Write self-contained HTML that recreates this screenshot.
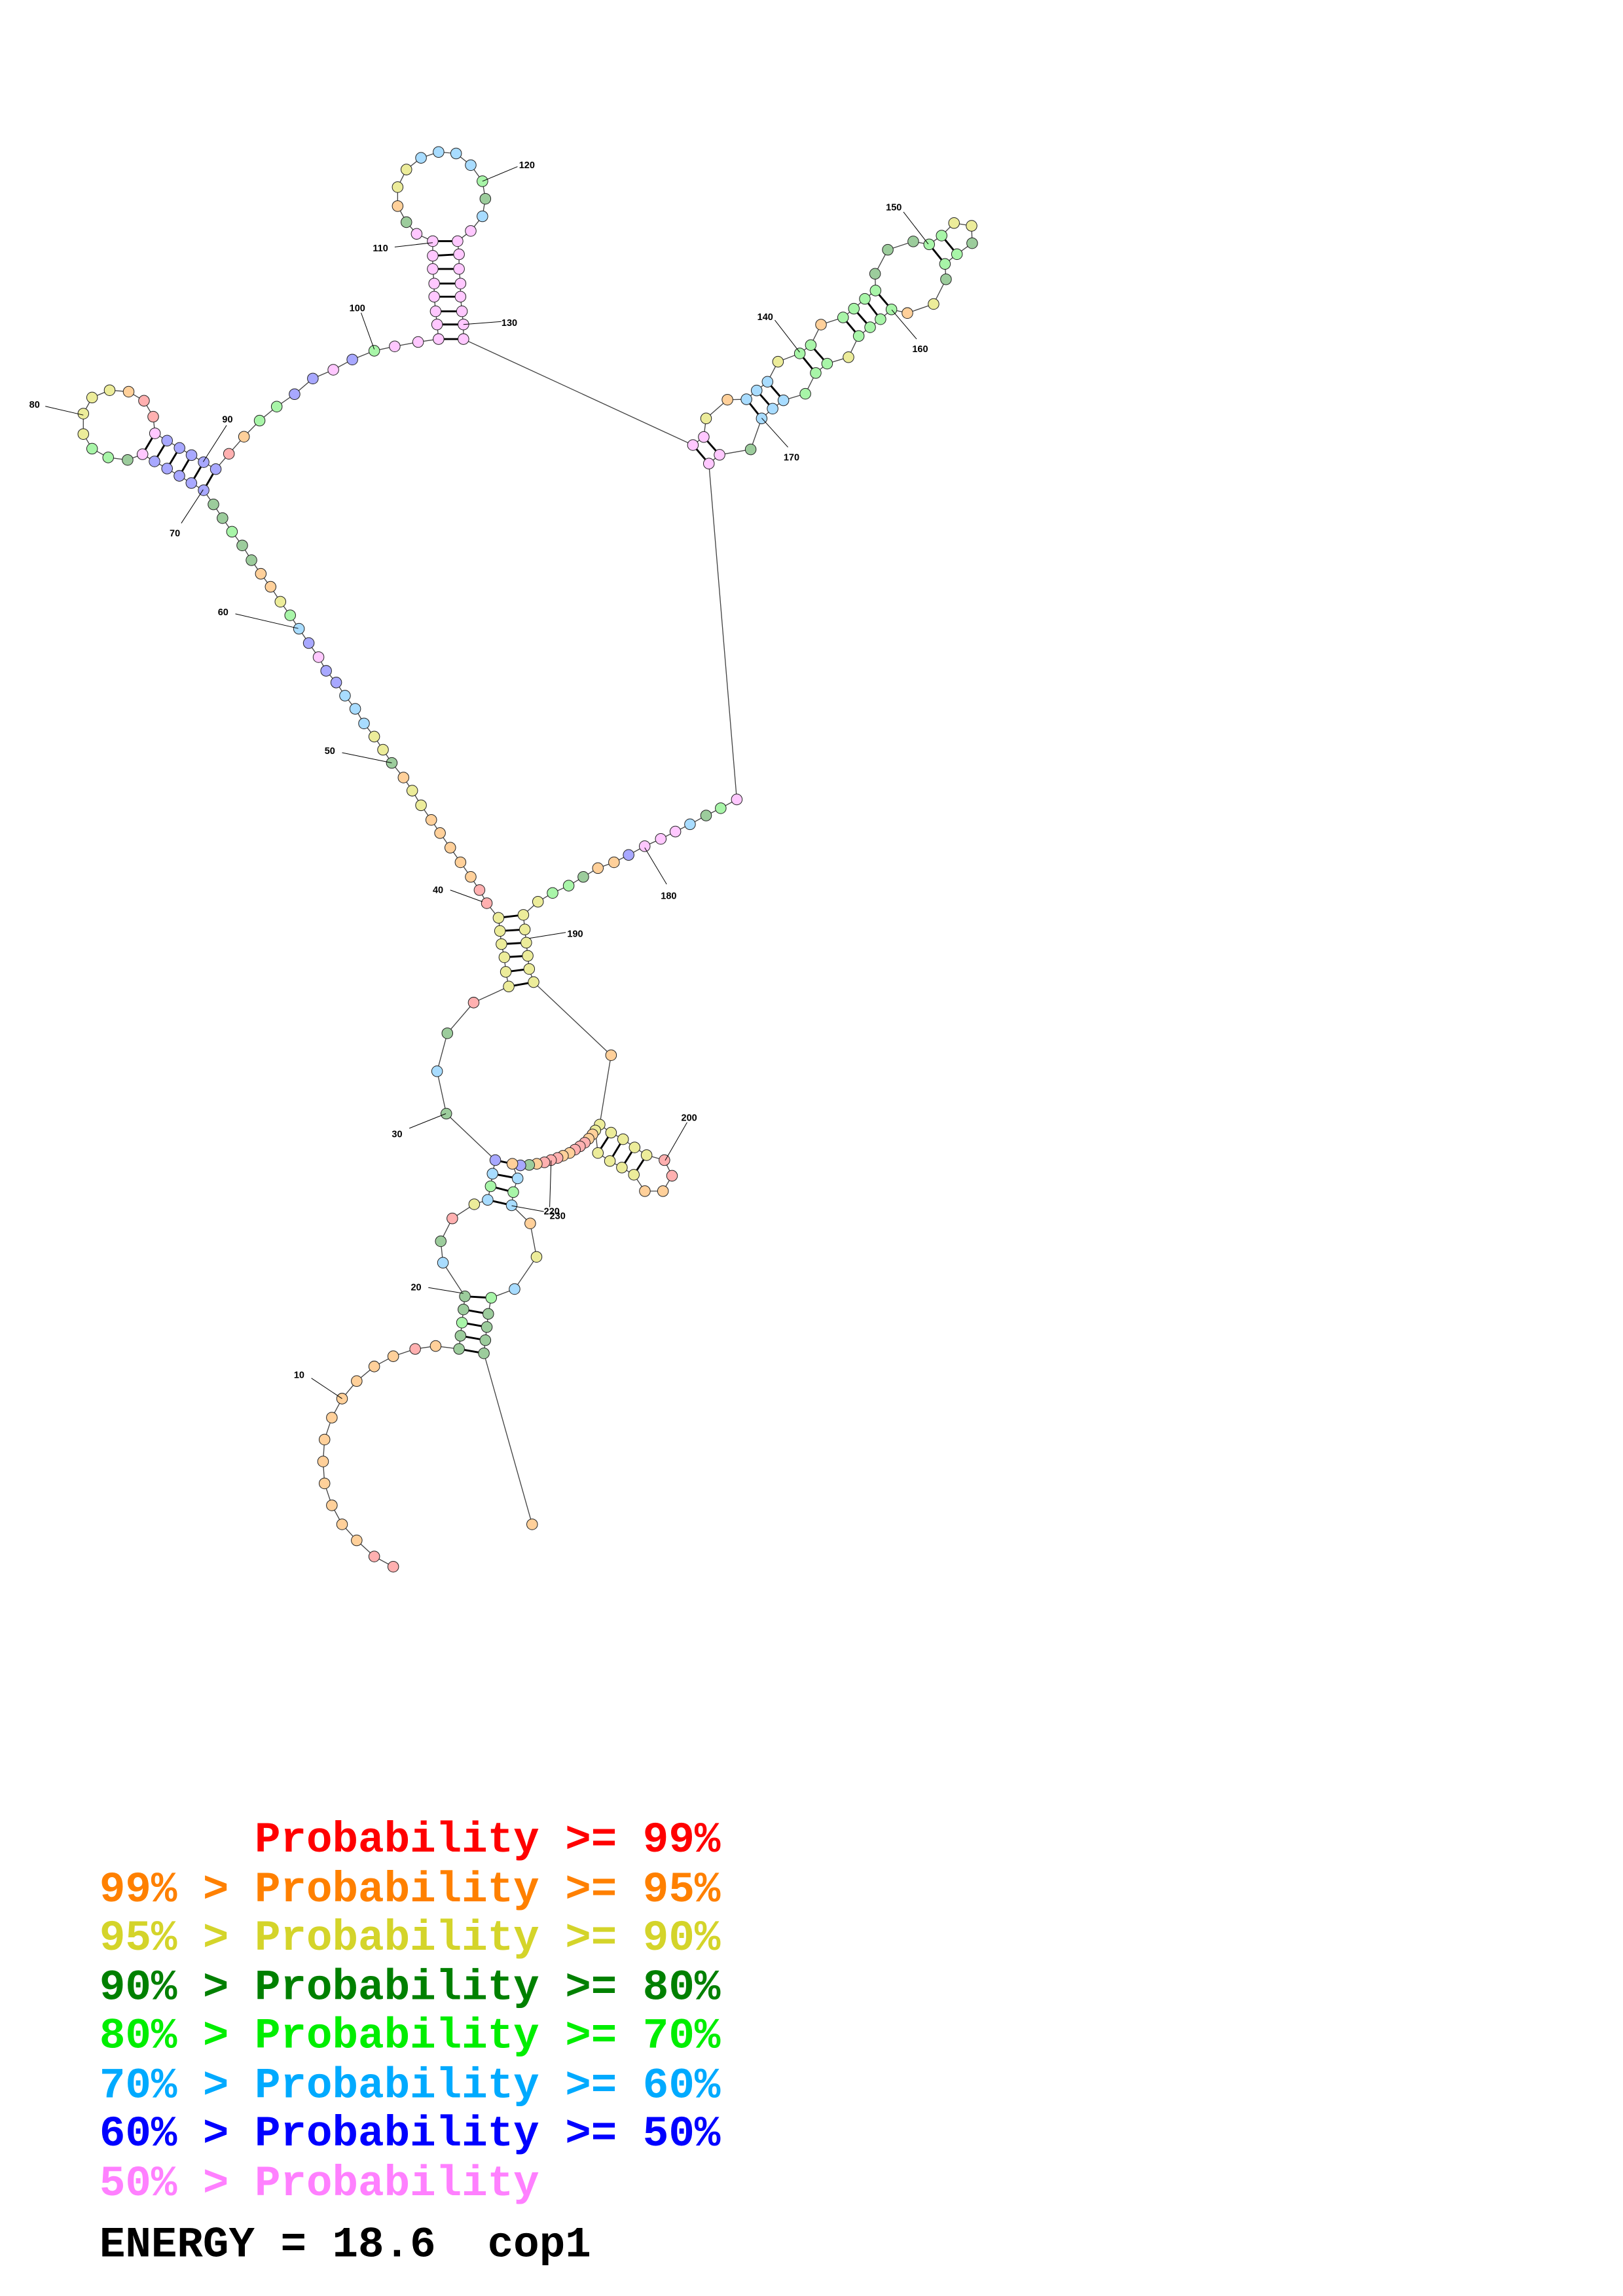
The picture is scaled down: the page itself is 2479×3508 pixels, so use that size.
<!DOCTYPE html>
<html><head><meta charset="utf-8"><style>
html,body{margin:0;padding:0;background:#fff;}
svg{display:block;}
</style></head><body>
<svg id="s" xmlns="http://www.w3.org/2000/svg" width="2479" height="3508" viewBox="0 0 1110.2 1571">
<rect width="1110.2" height="1571" fill="#fff"/>
<g id="bb" stroke="#444" stroke-width="0.6" fill="none"></g>
<g id="pr" stroke="#000" stroke-width="1.3"></g>
<g id="nt" stroke="#222" stroke-width="0.45"></g>
<g font-family="Liberation Sans, sans-serif" font-weight="bold" font-size="6.5" fill="#000">
<g stroke="#000" stroke-width="0.45">
<line x1="213" y1="943" x2="234" y2="957"/><line x1="293" y1="881" x2="317" y2="885"/>
<line x1="280" y1="772" x2="305" y2="762"/><line x1="308" y1="609" x2="330" y2="617"/>
<line x1="234" y1="515" x2="268" y2="522"/><line x1="161" y1="420" x2="204" y2="430"/>
<line x1="124" y1="358" x2="139" y2="335"/><line x1="31" y1="278" x2="57" y2="284"/>
<line x1="155" y1="291" x2="139" y2="316"/><line x1="247" y1="214" x2="256" y2="239"/>
<line x1="270" y1="169" x2="296" y2="166"/><line x1="354" y1="114" x2="330" y2="124"/>
<line x1="343" y1="220" x2="317" y2="222"/><line x1="530" y1="219" x2="547" y2="241"/>
<line x1="618" y1="145" x2="635" y2="167"/><line x1="627" y1="232" x2="610" y2="212"/>
<line x1="539" y1="306" x2="521" y2="286"/><line x1="456" y1="605" x2="441" y2="580"/>
<line x1="387" y1="638" x2="362" y2="642"/><line x1="470" y1="768" x2="455" y2="794"/>
<line x1="376" y1="826" x2="377" y2="794"/><line x1="350" y1="825" x2="372" y2="829"/>
</g>
<text x="201" y="943">10</text><text x="281" y="883">20</text><text x="268" y="778">30</text>
<text x="296" y="611">40</text><text x="222" y="516">50</text><text x="149" y="421">60</text>
<text x="116" y="367">70</text><text x="20" y="279">80</text><text x="152" y="289">90</text>
<text x="239" y="213">100</text><text x="255" y="172">110</text><text x="355" y="115">120</text>
<text x="343" y="223">130</text><text x="518" y="219">140</text><text x="606" y="144">150</text>
<text x="624" y="241">160</text><text x="536" y="315">170</text><text x="452" y="615">180</text>
<text x="388" y="641">190</text><text x="466" y="767">200</text>
<text x="372" y="831">220</text><text x="376" y="834">230</text>
</g>
<g font-family="Liberation Mono, monospace" font-weight="bold" font-size="29.5" xml:space="preserve">
<text x="68" y="1267" fill="#ff0000" xml:space="preserve">      Probability &gt;= 99%</text>
<text x="68" y="1301" fill="#ff8000" xml:space="preserve">99% &gt; Probability &gt;= 95%</text>
<text x="68" y="1334" fill="#d4d42a" xml:space="preserve">95% &gt; Probability &gt;= 90%</text>
<text x="68" y="1368" fill="#008000" xml:space="preserve">90% &gt; Probability &gt;= 80%</text>
<text x="68" y="1401" fill="#00ee00" xml:space="preserve">80% &gt; Probability &gt;= 70%</text>
<text x="68" y="1435" fill="#00aaff" xml:space="preserve">70% &gt; Probability &gt;= 60%</text>
<text x="68" y="1468" fill="#0000ff" xml:space="preserve">60% &gt; Probability &gt;= 50%</text>
<text x="68" y="1502" fill="#ff80ff" xml:space="preserve">50% &gt; Probability</text>
<text x="68" y="1544" fill="#000" xml:space="preserve">ENERGY = 18.6  cop1</text>
</g>
</svg>
<script>
var C={r:"#ffb0b0",o:"#ffd09a",y:"#ecec9a",g:"#9ccc9c",l:"#a8f5a8",c:"#a8dcff",b:"#a8a8ff",p:"#ffc8ff"};
var P=[
[269,1072,'r'],[256,1065,'r'],[244,1054,'o'],[234,1043,'o'],[227,1030,'o'],[222,1015,'o'],[221,1000,'o'],[222,985,'o'],[227,970,'o'],[234,957,'o'],
[244,945,'o'],[256,935,'o'],[269,928,'o'],[284,923,'r'],[298,921,'o'],
[314,923,'g'],[315,914,'g'],[316,905,'l'],[317,896,'g'],[318,887,'g'],
[303,864,'c'],[301.5,849.3,'g'],[309.4,833.7,'r'],[324.4,824,'y'],
[333.6,821,'c'],[335.6,811.7,'l'],[336.9,803.1,'c'],[338.8,793.8,'b'],
[305.3,762,'g'],[299,733,'c'],[306,707,'g'],[324,686,'r'],
[348,675,'y'],[346,665,'y'],[345,655,'y'],[343,646,'y'],[342,637,'y'],[341,628,'y'],
[333,618,'r'],[328,609,'r'],[322,600,'o'],[315,590,'o'],[308,580,'o'],[301,570,'o'],[295,561,'o'],[288,551,'y'],[282,541,'y'],[276,532,'o'],[268,522,'g'],[262,513,'y'],[256,504,'y'],[249,495,'c'],[243,485,'c'],[236,476,'c'],[230,467,'b'],
[223.1,459,'b'],[217.9,449.6,'p'],[211.2,440,'b'],[204.5,430.2,'c'],[198.5,421,'l'],[191.8,411.7,'y'],[185.1,401.5,'o'],[178.4,392.6,'o'],[172,383.3,'g'],[165.7,373.2,'g'],[158.7,363.8,'l'],[152.2,354.5,'g'],[146,345.1,'g'],[139.3,335.4,'b'],
[130.9,330.5,'b'],[122.7,325.6,'b'],[114.3,320.6,'b'],[105.7,315.7,'b'],[97.5,310.8,'p'],
[87.3,314.7,'g'],[74,313,'l'],[63,307,'l'],[57,297,'y'],[57,283,'y'],[63,272,'y'],[75,267,'y'],[88,268,'o'],[98.5,274.2,'r'],[104.8,285.1,'r'],
[106,296.5,'p'],[114.3,301.5,'b'],[122.8,306.5,'b'],[131,311.4,'b'],[139.3,316.2,'b'],[147.6,321,'b'],
[156.6,310.5,'r'],[166.9,298.8,'o'],[177.6,287.8,'l'],[189.3,278.2,'l'],[201.5,269.7,'b'],[214,259,'b'],[228,253,'p'],[241,246,'b'],[256,240,'l'],[270,237,'p'],[286,234,'p'],
[300,232,'p'],[299,222,'p'],[298,213,'p'],[297,203,'p'],[297,194,'p'],[296,184,'p'],[296,175,'p'],[296,165,'p'],
[285,160,'p'],[278,152,'g'],[272,141,'o'],[272,128,'y'],[278,116,'y'],[288,108,'c'],[300,104,'c'],[312,105,'c'],[322,113,'c'],[330,124,'l'],[332,136,'g'],[330,148,'c'],[322,158,'p'],
[313,165,'p'],[314,174,'p'],[314,184,'p'],[315,194,'p'],[315,203,'p'],[316,213,'p'],[317,222,'p'],[317,232,'p'],
[474,304.5,'p'],[481.4,299,'p'],[483,286.3,'y'],[497.6,273.5,'o'],[510.6,273.2,'c'],[517.6,267.2,'c'],[525,261.2,'c'],[532.2,247.5,'y'],[547.1,241.8,'l'],[554.6,236.1,'l'],[561.6,222.1,'o'],[576.7,217.2,'l'],[584.1,211.2,'l'],[591.6,204.5,'l'],[598.9,198.8,'l'],[598.6,187.3,'g'],[607.3,170.9,'g'],[624.7,165.2,'g'],[635.6,167.2,'l'],[644.1,161.2,'l'],[652.6,152.6,'y'],[664.6,154.5,'y'],[665,166.4,'g'],[654.6,173.9,'l'],[646.4,180.6,'l'],[647.1,191.1,'g'],[638.6,208,'y'],[620.7,214.2,'o'],[609.8,211.7,'l'],[602.3,218.4,'l'],[595.2,223.9,'l'],[587.4,229.9,'l'],[580.4,244.4,'y'],[565.8,248.8,'l'],[558,255.2,'l'],[550.9,269.4,'l'],[535.9,273.9,'c'],[528.5,279.6,'c'],[521,286.3,'c'],[513.5,307.5,'g'],[492.2,311.2,'p'],[484.9,317.2,'p'],
[504,547,'p'],[493,553,'l'],[483,558,'g'],[472,564,'c'],[462,569,'p'],[452,574,'p'],[441,579,'p'],[430,585,'b'],[420,590,'o'],[409,594,'o'],[399,600,'g'],[389,606,'l'],[378,611,'l'],[368,617,'y'],
[358,626,'y'],[359,636,'y'],[360,645,'y'],[361,654,'y'],[362,663,'y'],[365,672,'y'],
[418,722,'o'],
[410.2,769.5,'y'],[418,775,'y'],[426.2,779.5,'y'],[434.1,785.1,'y'],[442.3,790.4,'y'],[454.5,793.8,'r'],[459.7,804.5,'r'],[453.5,815,'o'],[441.1,815,'o'],[433.6,803.8,'y'],[425.4,798.9,'y'],[417.2,794.4,'y'],[409,788.9,'y'],
[407.2,773.5,'y'],[405.3,776.2,'o'],[402.7,779.2,'o'],[400,781.9,'r'],[396.7,784.4,'r'],[393.3,786.6,'r'],[389.6,788.9,'o'],[385.1,790.8,'o'],[381.4,792.3,'r'],[376.9,793.8,'r'],[372.4,795.3,'r'],[367.2,796.3,'o'],[362,797.1,'g'],[356,797.4,'b'],[350.5,796.3,'o'],
[354.1,806.3,'c'],[351.1,815.7,'l'],[350,824.7,'c'],[362.7,837.1,'o'],[367,860,'y'],[352,882,'c'],[336,888,'l'],[334,899,'g'],[333,908,'g'],[332,917,'g'],[331,926,'g'],[364,1043,'o']
];
var PR=[
[314,923,331,926],[315,914,332,917],[316,905,333,908],[317,896,334,899],[318,887,336,888],
[338.8,793.8,350.5,796.3],[336.9,803.1,354.1,806.3],[335.6,811.7,351.1,815.7],[333.6,821,350,824.7],
[348,675,365,672],[346,665,362,663],[345,655,361,654],[343,646,360,645],[342,637,359,636],[341,628,358,626],
[139.3,335.4,147.6,321],[130.9,330.5,139.3,316.2],[122.7,325.6,131,311.4],[114.3,320.6,122.8,306.5],[105.7,315.7,114.3,301.5],[97.5,310.8,106,296.5],
[300,232,317,232],[299,222,317,222],[298,213,316,213],[297,203,315,203],[297,194,315,194],[296,184,314,184],[296,175,314,174],[296,165,313,165],
[474,304.5,484.9,317.2],[481.4,299,492.2,311.2],[510.6,273.2,521,286.3],[517.6,267.2,528.5,279.6],[525,261.2,535.9,273.9],[547.1,241.8,558,255.2],[554.6,236.1,565.8,248.8],[576.7,217.2,587.4,229.9],[584.1,211.2,595.2,223.9],[591.6,204.5,602.3,218.4],[598.9,198.8,609.8,211.7],[644.1,161.2,654.6,173.9],[635.6,167.2,646.4,180.6],
[418,775,409,788.9],[426.2,779.5,417.2,794.4],[434.1,785.1,425.4,798.9],[442.3,790.4,433.6,803.8]
];
var NS="http://www.w3.org/2000/svg";
function el(t,a,p){var e=document.createElementNS(NS,t);for(var k in a)e.setAttribute(k,a[k]);p.appendChild(e);return e;}
var pts=P.map(function(q){return q[0]+","+q[1];}).join(" ");
el("polyline",{points:pts},document.getElementById("bb"));
var pr=document.getElementById("pr");
PR.forEach(function(q){el("line",{x1:q[0],y1:q[1],x2:q[2],y2:q[3]},pr);});
var nt=document.getElementById("nt");
P.forEach(function(q){el("circle",{cx:q[0],cy:q[1],r:3.7,fill:C[q[2]]},nt);});
</script>
</body></html>
